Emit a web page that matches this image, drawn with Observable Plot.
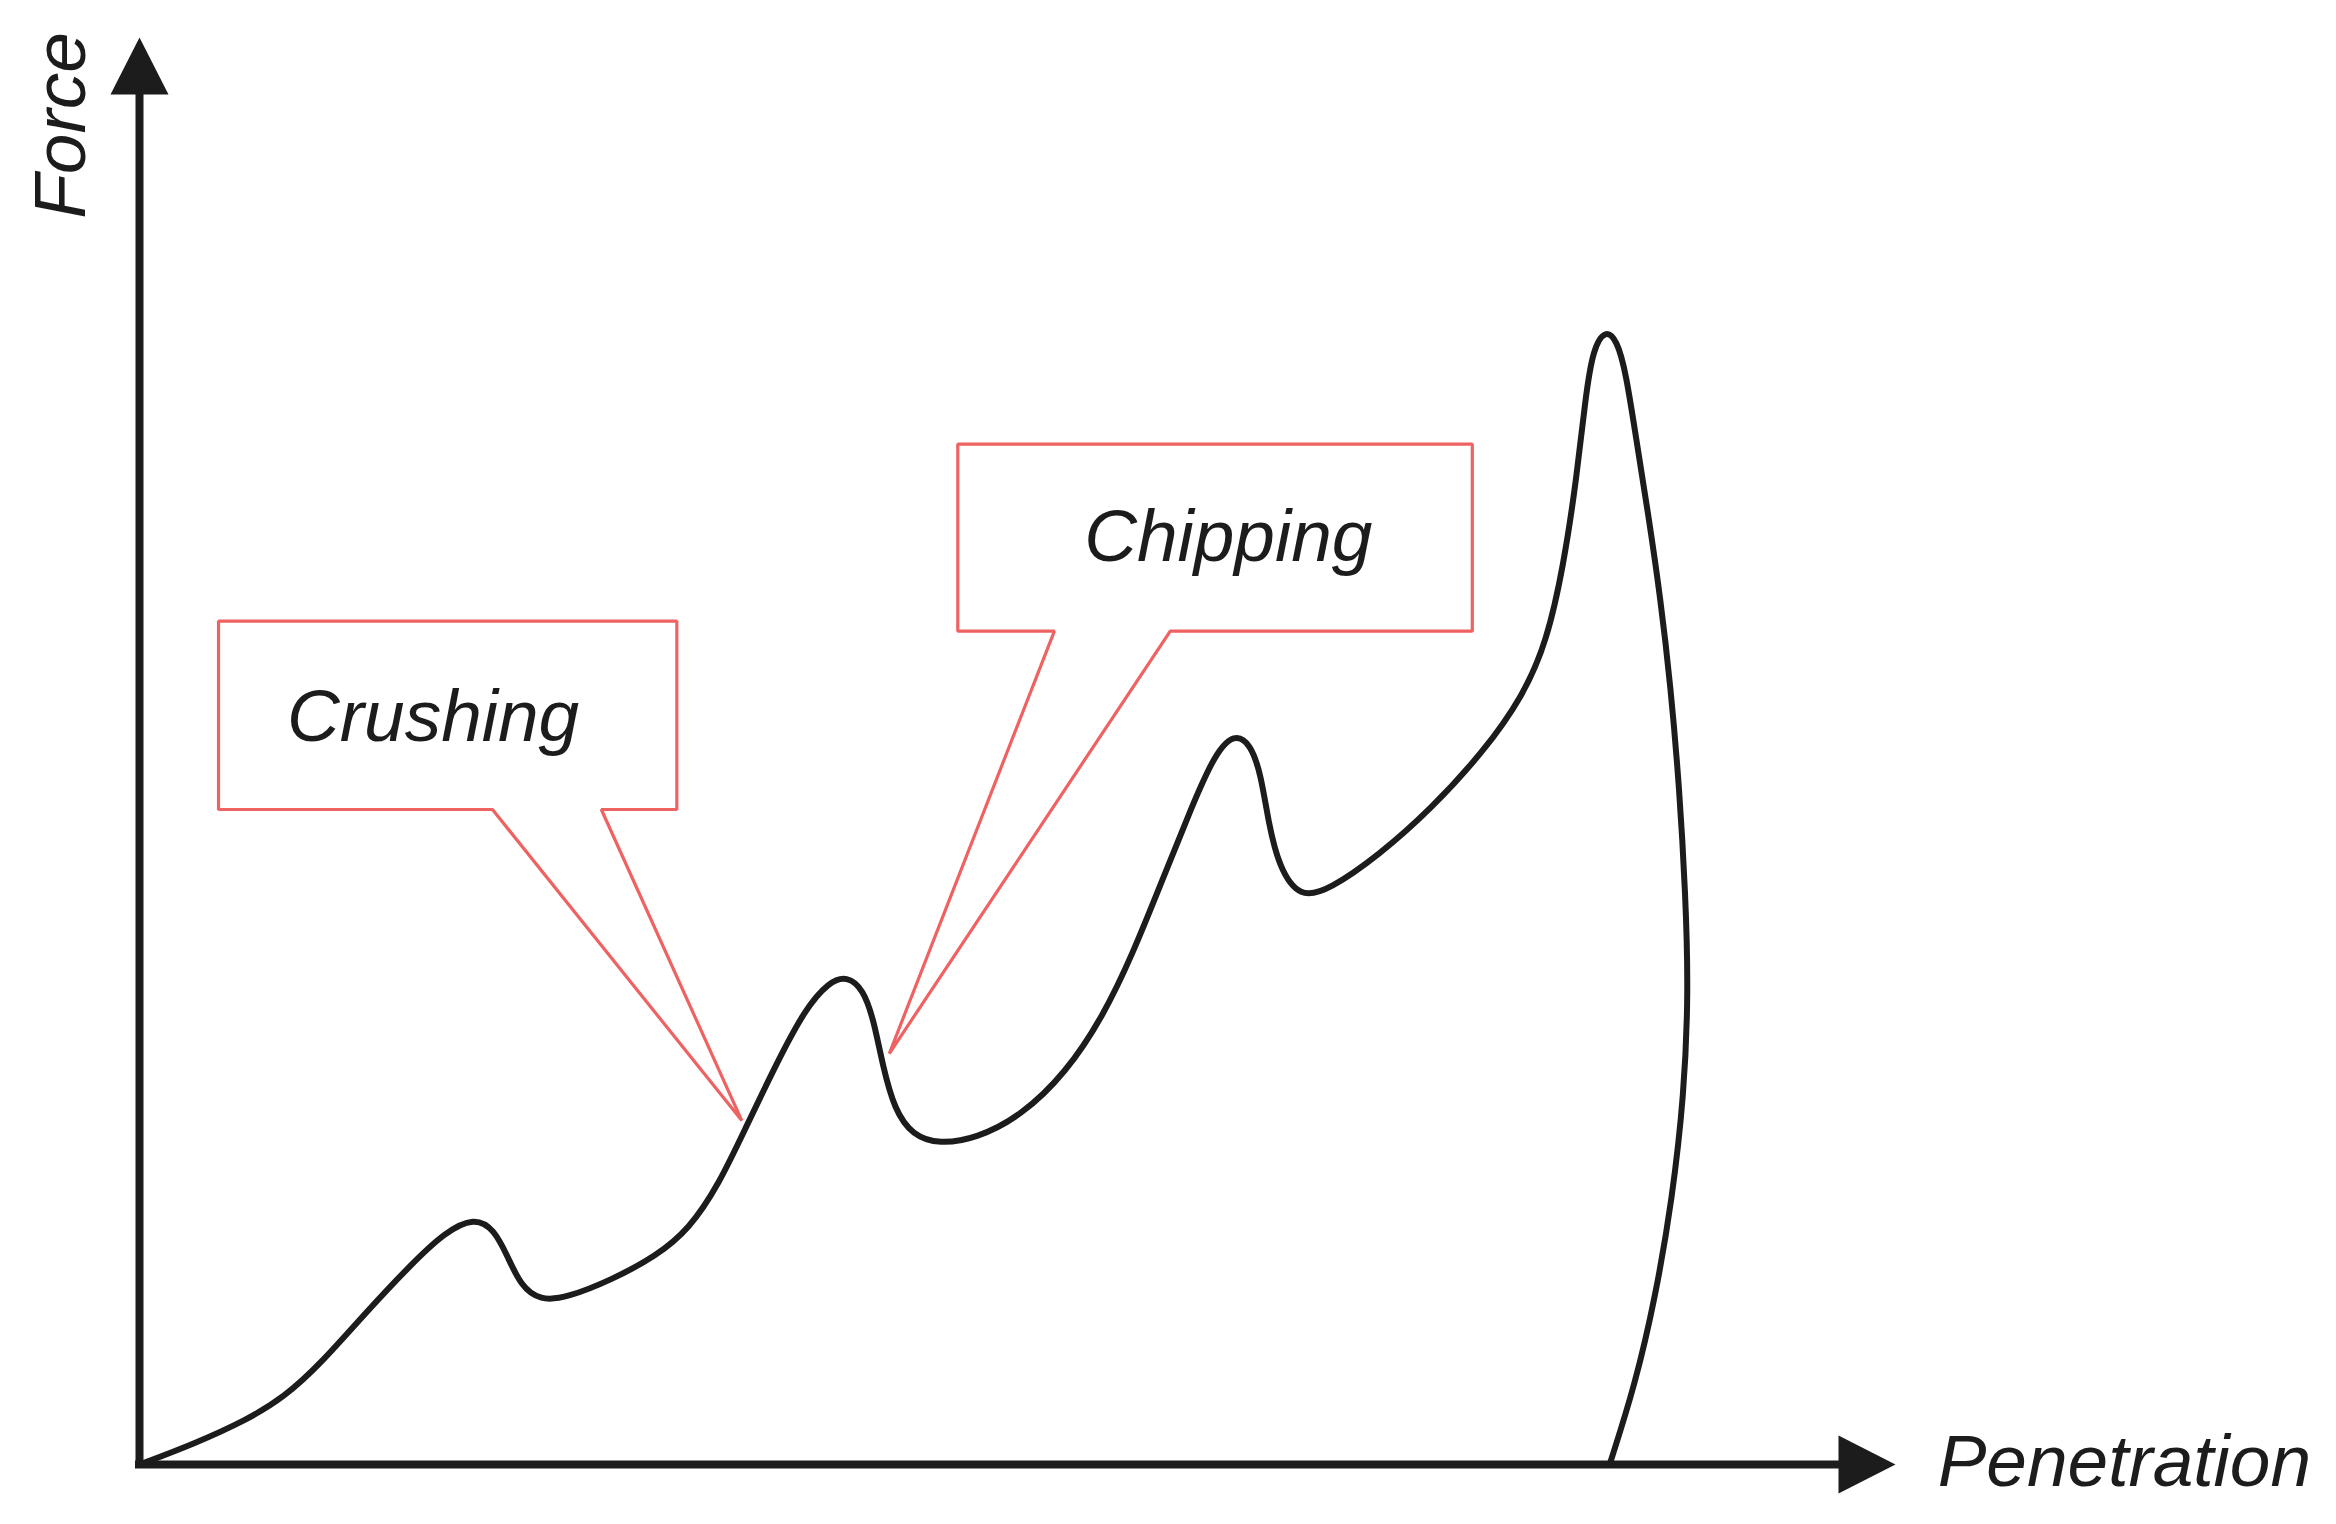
<!DOCTYPE html>
<html>
<head>
<meta charset="utf-8">
<script src="https://cdn.jsdelivr.net/npm/d3@7"></script>
<script src="https://cdn.jsdelivr.net/npm/@observablehq/plot@0.6"></script>
<style>
  html, body { margin: 0; padding: 0; background: #ffffff; }
  svg { display: block; }
</style>
</head>
<body>
<div id="chart"></div>
<script>
// ---- Data (arbitrary units: 0..100 along each axis) ----
const penetration = [0, 3.14, 6.11, 8.23, 10.35, 12.89, 15.44, 17.39, 19.08, 20.19, 20.95, 21.71, 22.82, 24.34, 26.89, 29.43, 31.30, 32.99, 34.52, 36.22, 37.91, 39.27, 40.29, 41.22, 41.82, 42.32, 43.00, 44.02, 45.55, 47.67, 50.21, 52.76, 54.88, 56.57, 58.27, 59.97, 61.24, 62.34, 63.27, 63.87, 64.29, 64.89, 66.07, 67.77, 70.57, 73.54, 76.51, 78.80, 80.15, 81.09, 81.85, 82.36, 82.78, 83.46, 84.14, 84.65, 85.24, 85.92, 86.60, 87.19, 87.70, 88.04, 88.21, 87.96, 87.28, 86.34, 85.16, 83.72];
const force       = [0, 1.46, 3.13, 4.70, 7.10, 10.65, 13.99, 16.28, 17.33, 16.49, 14.61, 12.53, 11.48, 11.69, 12.94, 14.61, 16.49, 19.62, 23.59, 27.97, 31.94, 33.82, 34.24, 33.30, 31.11, 27.97, 24.84, 23.07, 22.44, 22.86, 24.43, 27.45, 31.42, 35.80, 41.02, 46.24, 49.79, 51.25, 50.52, 48.33, 44.99, 41.86, 39.67, 40.29, 42.69, 45.93, 49.90, 53.86, 57.72, 62.94, 69.21, 74.95, 78.18, 79.54, 78.81, 76.51, 71.82, 66.60, 60.86, 54.59, 47.29, 39.98, 33.19, 25.89, 18.58, 11.80, 5.53, 0];

// Callout outlines (box + pointer), in the same units
const crushX = [4.5, 30.6, 30.6, 26.3, 34.3, 20.1, 4.5];
const crushY = [59.1, 59.1, 45.9, 45.9, 24.1, 45.9, 45.9];
const chipX  = [46.6, 75.9, 75.9, 58.7, 42.7, 52.1, 46.6];
const chipY  = [71.5, 71.5, 58.4, 58.4, 28.8, 58.4, 58.4];

const calloutLabels = ["Crushing", "Chipping"];
const calloutX = [8.4, 53.8];
const calloutY = [50.7, 63.3];

const xAxisLabel = "Penetration";
const yAxisLabel = "Force";
const axisMax = 100;

// ---- Build tables ----
const curve = penetration.map((x, i) => ({x, y: force[i]}));
const crush = crushX.map((x, i) => ({x, y: crushY[i]}));
const chip = chipX.map((x, i) => ({x, y: chipY[i]}));
const labels = calloutLabels.map((t, i) => ({t, x: calloutX[i], y: calloutY[i]}));

const ink = "#1c1c1c";
const red = "#ef6262";
const font = "Liberation Sans, Arial, Helvetica, sans-serif";

// Filled arrow-head glyphs (tip at the anchor point)
const headLen = 57, headHalf = 29;
const arrowUp = { draw(ctx) { ctx.moveTo(0, 0); ctx.lineTo(-headHalf, headLen); ctx.lineTo(headHalf, headLen); ctx.closePath(); } };
const arrowRight = { draw(ctx) { ctx.moveTo(0, 0); ctx.lineTo(-headLen, -headHalf); ctx.lineTo(-headLen, headHalf); ctx.closePath(); } };

const chart = Plot.plot({
  width: 2336,
  height: 1524,
  marginLeft: 139,
  marginRight: 441,
  marginTop: 37,
  marginBottom: 60,
  x: {domain: [0, axisMax], axis: null},
  y: {domain: [0, axisMax], axis: null},
  style: {background: "#ffffff"},
  marks: [
    // axes
    Plot.ruleX([0], {y1: 0, y2: axisMax * 0.97, stroke: ink, strokeWidth: 8, strokeLinecap: "square"}),
    Plot.ruleY([0], {x1: 0, x2: axisMax * 0.97, stroke: ink, strokeWidth: 8, strokeLinecap: "square"}),
    Plot.dot([{x: 0, y: axisMax}], {x: "x", y: "y", symbol: arrowUp, fill: ink, stroke: "none"}),
    Plot.dot([{x: axisMax, y: 0}], {x: "x", y: "y", symbol: arrowRight, fill: ink, stroke: "none"}),
    // force–penetration curve
    Plot.line(curve, {x: "x", y: "y", curve: "basis", stroke: ink, strokeWidth: 6, strokeLinejoin: "round"}),
    // callouts
    Plot.line(crush, {x: "x", y: "y", curve: "linear-closed", fill: "white", stroke: red, strokeWidth: 3.2, strokeLinejoin: "miter"}),
    Plot.line(chip, {x: "x", y: "y", curve: "linear-closed", fill: "white", stroke: red, strokeWidth: 3.2, strokeLinejoin: "miter"}),
    Plot.text(labels, {x: "x", y: "y", text: "t", textAnchor: "start", lineAnchor: "bottom", fontSize: 73, fontStyle: "italic", fontFamily: font, fill: ink}),
    // axis titles
    Plot.text([xAxisLabel], {x: 102.4, y: -1.5, textAnchor: "start", lineAnchor: "bottom", fontSize: 73, fontStyle: "italic", fontFamily: font, fill: ink}),
    Plot.text([yAxisLabel], {x: -3.1, y: 87.3, rotate: -90, textAnchor: "start", lineAnchor: "bottom", fontSize: 73, fontStyle: "italic", fontFamily: font, fill: ink})
  ]
});
document.getElementById("chart").appendChild(chart);
</script>
</body>
</html>
